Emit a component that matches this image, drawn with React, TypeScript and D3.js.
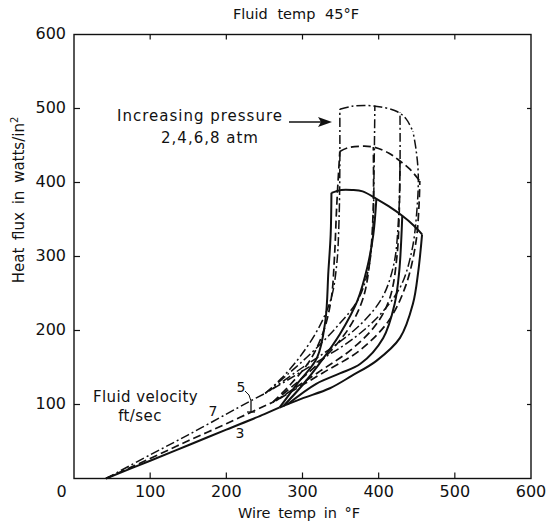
import React from 'react';
import * as d3 from 'd3';

type P = [number, number];

const xTicks = [0, 100, 200, 300, 400, 500, 600];
const yTicks = [0, 100, 200, 300, 400, 500, 600];

// Velocity 3 ft/sec (solid)
const solidBase: P[] = [[42, 0], [100, 24], [150, 45], [200, 66], [250, 87], [270, 96]];
const solidC1: P[] = [[270, 96], [293, 128], [319, 163], [330, 213], [334, 280], [337, 330], [338, 386]];
const solidC2: P[] = [[275, 98], [299, 125], [322, 155], [349, 195], [372, 240], [385, 285], [393, 330], [397, 378]];
const solidC3: P[] = [[280, 100], [318, 128], [349, 142], [376, 155], [406, 190], [421, 236], [427, 280], [431, 355]];
const solidC4: P[] = [[270, 96], [299, 108], [336, 122], [365, 139], [397, 159], [428, 190], [445, 236], [452, 280], [457, 330]];
const solidEnv: P[] = [[338, 386], [351, 390], [365, 390], [379, 388], [397, 378], [413, 368], [431, 355], [446, 342], [457, 330]];

// Velocity 7 ft/sec (dashed)
const dashBase: P[] = [[42, 0], [100, 27], [150, 51], [200, 74], [250, 98], [261, 103]];
const dashC1: P[] = [[261, 103], [285, 128], [310, 160], [328, 200], [338, 245], [342, 300], [345, 370], [349, 442]];
const dashC2: P[] = [[261, 103], [300, 136], [335, 170], [362, 205], [380, 245], [389, 300], [393, 370], [393, 448]];
const dashC3: P[] = [[265, 105], [320, 143], [365, 175], [398, 210], [415, 245], [424, 300], [427, 360], [428, 429]];
const dashC4: P[] = [[270, 108], [327, 143], [375, 173], [413, 213], [436, 262], [449, 320], [453, 370], [454, 402]];
const dashEnv: P[] = [[349, 442], [360, 447], [376, 449], [393, 448], [413, 440], [428, 429], [441, 418], [454, 402]];

// Velocity 5 ft/sec (dash-dot)
const dotBase: P[] = [[42, 0], [100, 32], [150, 59], [200, 87], [232, 105], [251, 115]];
const dotC1: P[] = [[251, 115], [272, 135], [297, 165], [322, 205], [338, 245], [345, 290], [348, 350], [349, 420], [349, 499]];
const dotC2: P[] = [[251, 115], [282, 142], [312, 170], [345, 205], [372, 240], [386, 280], [392, 330], [394, 420], [395, 504]];
const dotC3: P[] = [[256, 118], [300, 150], [340, 178], [378, 210], [405, 245], [420, 290], [426, 350], [428, 420], [428, 495]];
const dotC4: P[] = [[261, 121], [320, 158], [368, 190], [405, 225], [430, 262], [444, 310], [450, 360], [452, 410], [449, 445], [445, 469]];
const dotEnv: P[] = [[349, 499], [365, 503], [385, 504], [403, 502], [424, 496], [436, 486], [445, 469]];

const W = 551;
const H = 522;
const INK = '#111';
const FONT = "'DejaVu Sans', sans-serif";

export default function App() {
  const x = d3.scaleLinear().domain([0, 600]).range([74, 531]);
  const y = d3.scaleLinear().domain([0, 600]).range([478.5, 34.5]);
  const line = d3
    .line<P>()
    .x((d) => x(d[0]))
    .y((d) => y(d[1]))
    .curve(d3.curveCatmullRom.alpha(0.5));

  const groups = [
    { curves: [solidBase, solidC1, solidC2, solidC3, solidC4, solidEnv], dash: undefined, w: 2 },
    { curves: [dashBase, dashC1, dashC2, dashC3, dashC4, dashEnv], dash: '8 4', w: 1.7 },
    { curves: [dotBase, dotC1, dotC2, dotC3, dotC4, dotEnv], dash: '9 3 2 3', w: 1.5 },
  ];

  const innerX = xTicks.filter((t) => t > 0 && t < 600);
  const innerY = yTicks.filter((t) => t > 0 && t < 600);

  return (
    <svg
      width={W}
      height={H}
      style={{ position: 'absolute', left: 0, top: 0, background: '#fff' }}
      fontFamily={FONT}
    >
      <rect x={0} y={0} width={W} height={H} fill="#fff" />
      {/* frame */}
      <rect x={x(0)} y={y(600)} width={x(600) - x(0)} height={y(0) - y(600)} fill="none" stroke={INK} strokeWidth={1.4} />
      {/* ticks */}
      {innerX.map((t) => (
        <g key={'xt' + t}>
          <line x1={x(t)} x2={x(t)} y1={y(0)} y2={y(0) - 6} stroke={INK} strokeWidth={1.2} />
          <line x1={x(t)} x2={x(t)} y1={y(600)} y2={y(600) + 5} stroke={INK} strokeWidth={1.2} />
        </g>
      ))}
      {innerY.map((t) => (
        <g key={'yt' + t}>
          <line x1={x(0)} x2={x(0) + 6} y1={y(t)} y2={y(t)} stroke={INK} strokeWidth={1.2} />
          <line x1={x(600)} x2={x(600) - 4} y1={y(t)} y2={y(t)} stroke={INK} strokeWidth={1.2} />
        </g>
      ))}
      {/* tick labels */}
      {xTicks.map((t) => (
        <text key={'xl' + t} x={t === 0 ? 61.5 : x(t)} y={497} textAnchor="middle" fontSize={16} fill={INK}>
          {t}
        </text>
      ))}
      {yTicks.filter((t) => t > 0).map((t) => (
        <text key={'yl' + t} x={66} y={y(t) - 1} dy="0.36em" textAnchor="end" fontSize={16} fill={INK}>
          {t}
        </text>
      ))}
      {/* titles */}
      <text x={296} y={19} textAnchor="middle" fontSize={14.5} wordSpacing={5} fill={INK}>Fluid temp 45°F</text>
      <text x={299} y={518} textAnchor="middle" fontSize={14.5} wordSpacing={3} fill={INK}>Wire temp in °F</text>
      <text transform="translate(24,200) rotate(-90)" textAnchor="middle" fontSize={15} wordSpacing={3} fill={INK}>
        Heat flux in watts/in<tspan dy={-6} fontSize={10}>2</tspan>
      </text>
      {/* curves */}
      {groups.map((g, gi) =>
        g.curves.map((c, ci) => (
          <path
            key={gi + '-' + ci}
            d={line(c) || ''}
            fill="none"
            stroke={INK}
            strokeWidth={g.w}
            strokeDasharray={g.dash}
            strokeLinejoin="round"
          />
        ))
      )}
      {/* annotations */}
      <text x={117} y={121} fontSize={15} letterSpacing={1} fill={INK}>Increasing pressure</text>
      <text x={210} y={143} textAnchor="middle" fontSize={15} letterSpacing={1} fill={INK}>2,4,6,8 atm</text>
      <line x1={289} x2={326} y1={122} y2={122} stroke={INK} strokeWidth={1.3} />
      <path d="M332,122 L318,117 L321,122 L318,127 Z" fill={INK} />
      <text x={93} y={402} fontSize={15} letterSpacing={0.4} fill={INK}>Fluid velocity</text>
      <text x={140} y={421} textAnchor="middle" fontSize={15} letterSpacing={0.4} fill={INK}>ft/sec</text>
      <text x={213} y={416} textAnchor="middle" fontSize={14} fill={INK}>7</text>
      <text x={241} y={392} textAnchor="middle" fontSize={14} fill={INK}>5</text>
      <text x={240} y={438} textAnchor="middle" fontSize={14} fill={INK}>3</text>
      <path d="M245,391 Q250,394 251,401" fill="none" stroke={INK} strokeWidth={1} />
      <line x1={251} x2={251} y1={401} y2={412} stroke={INK} strokeWidth={1.3} />
      <line x1={247} x2={255} y1={412} y2={412} stroke={INK} strokeWidth={1.3} />
    </svg>
  );
}
